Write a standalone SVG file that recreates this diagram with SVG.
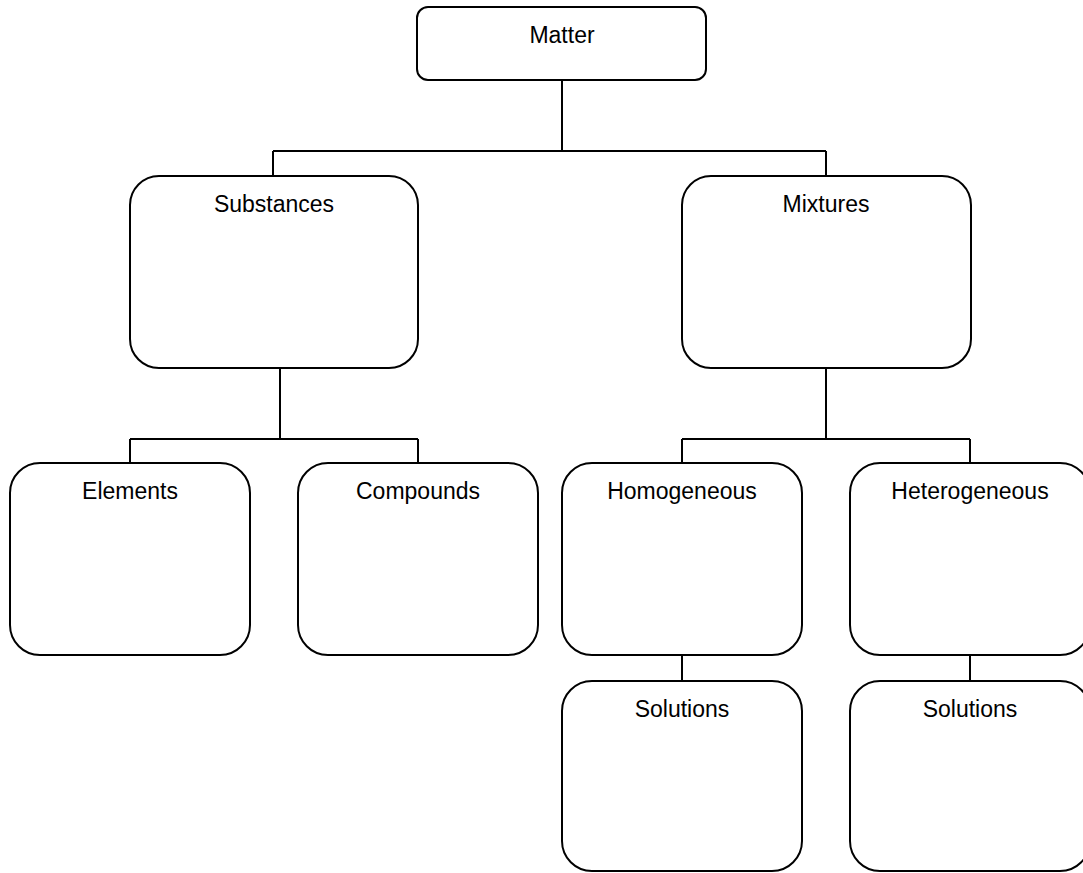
<svg xmlns="http://www.w3.org/2000/svg" width="1083" height="873" viewBox="0 0 1083 873">
<style>
.box{fill:#ffffff;stroke:#000000;stroke-width:2}
.lbl{font-family:"Liberation Sans",Arial,sans-serif;font-size:23px;fill:#000000;text-anchor:middle}
.conn{fill:none;stroke:#000000;stroke-width:2}
</style>
<rect x="0" y="0" width="1083" height="873" fill="#ffffff"/>
<g id="connectors">
<path class="conn" d="M562,80 V151 M273,151 H826 M273,151 V176 M826,151 V176"/>
<path class="conn" d="M280,368 V439 M130,439 H418 M130,439 V463 M418,439 V463"/>
<path class="conn" d="M826,368 V439 M682,439 H970 M682,439 V463 M970,439 V463"/>
<path class="conn" d="M682,655 V681 M970,655 V681"/>
</g>
<g id="matter"><rect class="box" x="417" y="7" width="289" height="73" rx="11"/><text class="lbl" x="562" y="43">Matter</text></g>
<g id="substances"><rect class="box" x="130" y="176" width="288" height="192" rx="29"/><text class="lbl" x="274" y="212">Substances</text></g>
<g id="mixtures"><rect class="box" x="682" y="176" width="289" height="192" rx="29"/><text class="lbl" x="826" y="212">Mixtures</text></g>
<g id="elements"><rect class="box" x="10" y="463" width="240" height="192" rx="30"/><text class="lbl" x="130" y="499">Elements</text></g>
<g id="compounds"><rect class="box" x="298" y="463" width="240" height="192" rx="30"/><text class="lbl" x="418" y="499">Compounds</text></g>
<g id="homogeneous"><rect class="box" x="562" y="463" width="240" height="192" rx="30"/><text class="lbl" x="682" y="499">Homogeneous</text></g>
<g id="heterogeneous"><rect class="box" x="850" y="463" width="240" height="192" rx="30"/><text class="lbl" x="970" y="499">Heterogeneous</text></g>
<g id="solutions1"><rect class="box" x="562" y="681" width="240" height="190" rx="30"/><text class="lbl" x="682" y="717">Solutions</text></g>
<g id="solutions2"><rect class="box" x="850" y="681" width="240" height="190" rx="30"/><text class="lbl" x="970" y="717">Solutions</text></g>
</svg>
